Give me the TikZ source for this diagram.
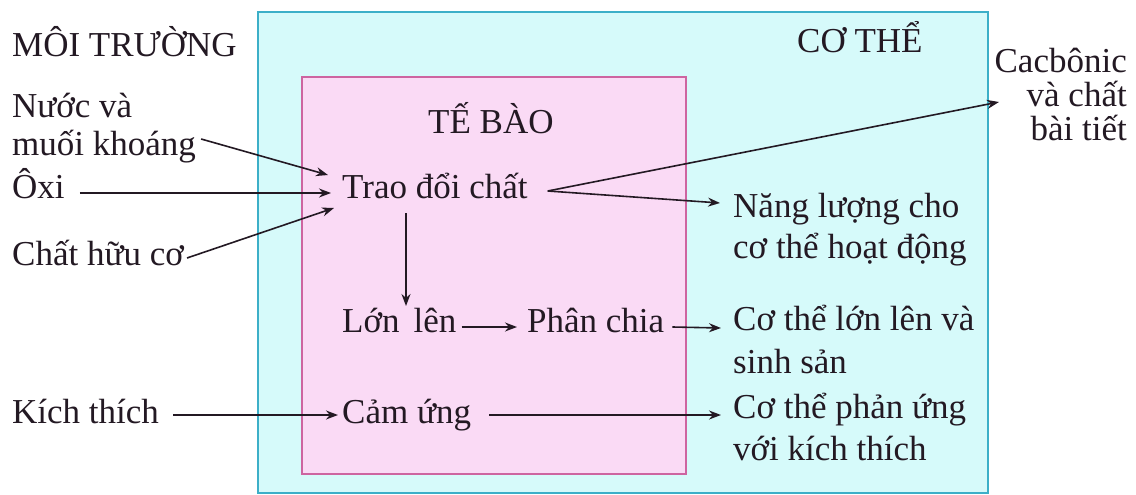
\documentclass[tikz,border=0pt]{standalone}
\usepackage{fontspec}
\setmainfont{Liberation Serif}
\usetikzlibrary{arrows.meta}
\definecolor{cyanfill}{RGB}{214,250,250}
\definecolor{cyanline}{RGB}{60,175,200}
\definecolor{pinkfill}{RGB}{250,218,245}
\definecolor{pinkline}{RGB}{205,100,160}
\definecolor{ink}{RGB}{35,25,35}
\begin{document}
\begin{tikzpicture}[x=1pt,y=-1pt,
  lbl/.style={inner sep=0pt,anchor=base west,text=ink,font=\fontsize{35}{38}\selectfont},
  lblr/.style={inner sep=0pt,anchor=base east,text=ink,font=\fontsize{35}{34}\selectfont,align=right},
  arr/.style={draw=ink,line width=1.6pt,-{Stealth[length=12pt,width=9pt]}}]
\useasboundingbox (0,0) rectangle (1136,495);
\fill[white] (0,0) rectangle (1136,495);
% boxes
\draw[fill=cyanfill,draw=cyanline,line width=2pt] (258,12) rectangle (988,493);
\draw[fill=pinkfill,draw=pinkline,line width=2pt] (302,77) rectangle (686,474);
% titles
\node[lbl] (moi) at (12,57) {MÔI TRƯỜNG};
\node[lbl] (cothe) at (797,53) {CƠ THỂ};
\node[lbl] (tebao) at (428,133) {TẾ BÀO};
% left inputs
\node[lbl,align=left,font=\fontsize{35}{38}\selectfont] (nuoc) at (12,155) {Nước và\\muối khoáng};
\node[lbl] (oxi) at (12,198) {Ôxi};
\node[lbl] (huuco) at (12,265) {Chất hữu cơ};
\node[lbl] (kich) at (12,423) {Kích thích};
% cell processes
\node[lbl] (trao) at (342,198) {Trao đổi chất};
\node[lbl] (lon) at (342,332) {Lớn\hspace{14pt}lên};
\node[lbl] (phan) at (527,332) {Phân chia};
\node[lbl] (cam) at (342,423) {Cảm ứng};
% outputs
\node[lblr] (cac) at (1127,140) {Cacbônic\\và chất\\bài tiết};
\node[lbl,align=left,font=\fontsize{35}{41}\selectfont] (nang) at (733,258) {Năng lượng cho\\cơ thể hoạt động};
\node[lbl,align=left,font=\fontsize{35}{43}\selectfont] (lonout) at (733,373) {Cơ thể lớn lên và\\sinh sản};
\node[lbl,align=left,font=\fontsize{35}{42}\selectfont] (phanung) at (733,460) {Cơ thể phản ứng\\với kích thích};
% connectors
\draw[arr] ([xshift=5pt,yshift=16pt]nuoc.base east) -- ([xshift=-14pt,yshift=23pt]trao.base west);
\draw[arr] ([xshift=15pt,yshift=5pt]oxi.base east) -- ([xshift=-11pt,yshift=5pt]trao.base west);
\draw[arr] ([xshift=3pt,yshift=7pt]huuco.base east) -- ([xshift=-8pt,yshift=-10pt]trao.base west);
\draw[arr] ([xshift=20pt,yshift=7pt]trao.base east) -- ([xshift=-128pt,yshift=38pt]cac.base east);
\draw[arr] ([xshift=20pt,yshift=7pt]trao.base east) -- ([xshift=-13pt,yshift=55pt]nang.base west);
\draw[arr] ([xshift=64pt,yshift=-15pt]trao.base west) -- ([xshift=64pt,yshift=26pt]lon.base west);
\draw[arr] ([xshift=5pt,yshift=5pt]lon.base east) -- ([xshift=-10pt,yshift=5pt]phan.base west);
\draw[arr] ([xshift=8pt,yshift=5pt]phan.base east) -- ([xshift=-12pt,yshift=45pt]lonout.base west);
\draw[arr] ([xshift=14pt,yshift=8pt]kich.base east) -- ([xshift=-4pt,yshift=8pt]cam.base west);
\draw[arr] ([xshift=18pt,yshift=8pt]cam.base east) -- ([xshift=-12pt,yshift=45pt]phanung.base west);
\end{tikzpicture}
\end{document}
